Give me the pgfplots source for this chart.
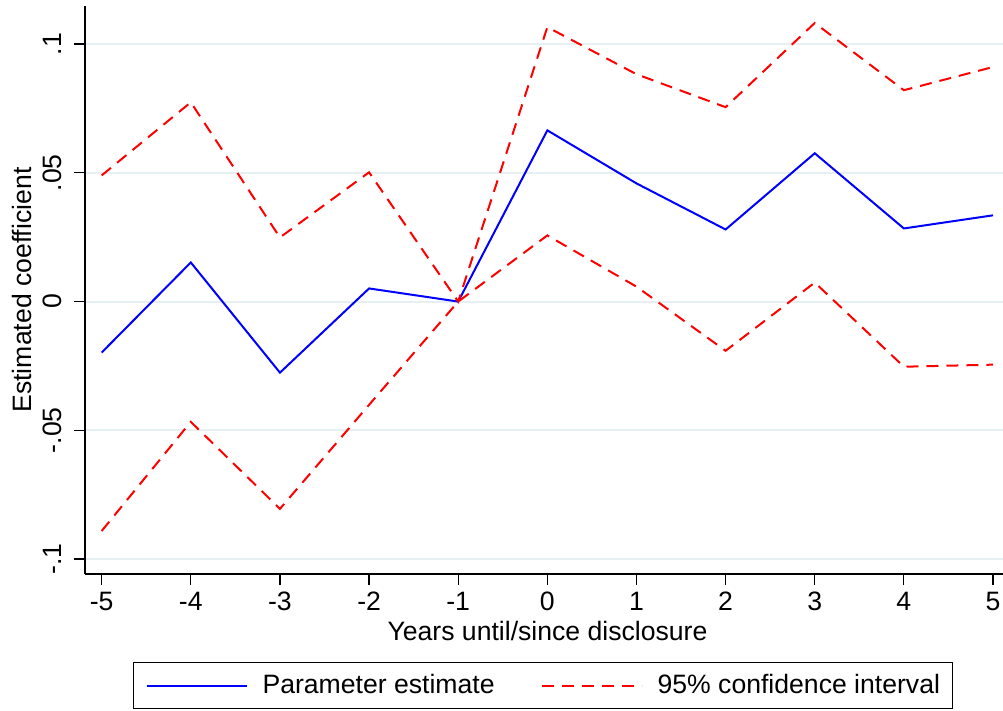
\documentclass[border=0pt]{standalone}
\usepackage{pgfplots}
\pgfplotsset{compat=1.18}
\usepackage{fontspec}
\setmainfont{Liberation Sans}
\definecolor{gridc}{RGB}{230,239,241}
\definecolor{estblue}{RGB}{0,0,255}
\definecolor{cired}{RGB}{255,0,0}

\pgfplotstableread{
x    est      lo       hi
-5  -0.0198  -0.0891   0.0490
-4   0.0152  -0.0467   0.0774
-3  -0.0276  -0.0805   0.0249
-2   0.0051  -0.0401   0.0502
-1   0.0000   0.0000   0.0000
 0   0.0665   0.0257   0.1066
 1   0.0459   0.0058   0.0883
 2   0.0280  -0.0191   0.0755
 3   0.0576   0.0074   0.1082
 4   0.0284  -0.0253   0.0821
 5   0.0335  -0.0245   0.0911
}\coefs

\begin{document}
\begin{tikzpicture}
\path[use as bounding box] (-42.5pt,-68.5pt) rectangle (459pt,287pt);
\begin{axis}[
  at={(0,0)}, anchor=south west,
  scale only axis,
  width=459pt, height=284pt,
  xmin=-5.187, xmax=5.112,
  ymin=-0.1058, ymax=0.1148,
  axis lines*=left,
  axis line style={black, line width=0.75pt, -},
  xtick={-5,...,5},
  ytick={-0.1,-0.05,0,0.05,0.1},
  yticklabels={-.1,-.05,0,.05,.1},
  tick align=outside,
  major tick length=5.5pt,
  tick style={black, line width=0.6pt},
  ymajorgrids,
  grid style={gridc, line width=1pt},
  ticklabel style={font=\fontsize{13.3}{15}\selectfont},
  /pgf/number format/assume math mode=true,
  yticklabel style={rotate=90, anchor=south, inner sep=0pt, yshift=6pt},
  xticklabel style={anchor=north, inner sep=0pt, yshift=-3.5pt},
  xlabel={Years until/since disclosure},
  ylabel={Estimated coefficient},
  label style={font=\fontsize{13.3}{15}\selectfont},
  xlabel style={at={(axis description cs:0.5,0)}, anchor=north, inner sep=0pt,
                yshift=-23.5pt, xshift=1.75pt},
  ylabel style={at={(axis description cs:0,0.5)}, anchor=south, inner sep=0pt,
                yshift=26.5pt},
  legend columns=2,
  legend style={
    at={(0.0523,-0.1549)}, anchor=north west,
    draw=black, line width=0.5pt,
    font=\fontsize{13.3}{15}\selectfont,
    inner xsep=6pt, inner ysep=6pt,
    nodes={inner sep=0pt},
    /tikz/every odd column/.append style={column sep=7.5pt},
    /tikz/every even column/.append style={column sep=23pt},
  },
  legend image code/.code={\draw[#1] (0pt,0pt) -- (50pt,0pt);},
]
\addplot[estblue, line width=1pt] table[x=x, y=est] {\coefs};
\addlegendentry{Parameter estimate}
\addplot[cired, line width=1pt, dash pattern=on 6pt off 4pt] table[x=x, y=hi] {\coefs};
\addlegendentry{95\% confidence interval}
\addplot[cired, line width=1pt, dash pattern=on 6pt off 4pt, forget plot] table[x=x, y=lo] {\coefs};
\end{axis}
\end{tikzpicture}
\end{document}
